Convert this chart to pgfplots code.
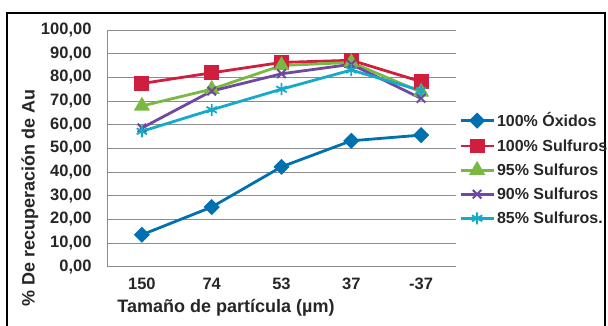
\documentclass[border=0pt]{standalone}
\usepackage{pgfplots}
\pgfplotsset{compat=1.18}
\usepackage{fontspec}
\setmainfont{Liberation Sans}
\definecolor{cBlue}{RGB}{0,112,176}
\definecolor{cRed}{RGB}{208,30,62}
\definecolor{cGreen}{RGB}{122,184,66}
\definecolor{cPurple}{RGB}{112,72,160}
\definecolor{cTeal}{RGB}{20,170,200}
\begin{document}
\begin{tikzpicture}[x=1pt,y=1pt]
\useasboundingbox (0,0) rectangle (608,325);
\draw[line width=2pt] (7,-10) rectangle (605,312);
\begin{axis}[
 at={(107pt,58.3pt)}, anchor=south west,
 scale only axis, width=349pt, height=236.7pt,
 xmin=-0.5, xmax=4.5, ymin=0, ymax=100,
 xtick={0,...,4}, xticklabels={150,74,53,37,-37},
 ytick={0,10,...,100},
 axis lines*=left, axis line style={draw=black!45, line width=0.8pt, -},
 major tick length=0pt,
 ymajorgrids, grid style={black!45, line width=0.8pt},
 tick label style={font=\bfseries\fontsize{16.5}{16.5}\selectfont, text=black!85},
 yticklabel style={xshift=-12pt, /pgf/number format/.cd, fixed, fixed zerofill, precision=2, use comma, assume math mode=true},
 xticklabel style={yshift=-8pt},
 xlabel={Tamaño de partícula (µm)},
 ylabel={\% De recuperación de Au},
 label style={font=\bfseries\fontsize{18}{18}\selectfont, text=black!85},
 xlabel style={at={(axis description cs:0.341,-0.1745)}, anchor=center},
 ylabel style={at={(axis description cs:-0.2206,0.292)}, anchor=center},
 legend style={at={(1.0,0.668)}, anchor=north west, draw=none, fill=none,
   font=\bfseries\fontsize{16}{16}\selectfont, text=black!85, row sep=7pt,
   nodes={inner sep=2pt}},
 legend cell align=left,
 legend image code/.code={\draw[mark repeat=2,mark phase=2] plot coordinates {(0pt,0pt)(16.5pt,0pt)(33pt,0pt)};},
 every axis plot/.append style={line width=2.8pt, mark options={solid}},
]
\addplot[cBlue, mark=square*, mark size=4.3, mark options={rotate=45}] coordinates {(0,13.5)(1,25.2)(2,42.2)(3,53.2)(4,55.6)};
\addlegendentry{100\% Óxidos}
\addplot[cRed, mark=square*, mark size=6] coordinates {(0,77.4)(1,81.9)(2,86.3)(3,87.2)(4,78.2)};
\addlegendentry{100\% Sulfuros}
\addplot[cGreen, mark=triangle*, mark size=6.5] coordinates {(0,67.9)(1,75.0)(2,85.0)(3,86.3)(4,73.8)};
\addlegendentry{95\% Sulfuros}
\addplot[cPurple, mark=x, mark size=6, mark options={line width=2pt}] coordinates {(0,58.6)(1,74.2)(2,81.5)(3,85.5)(4,71.1)};
\addlegendentry{90\% Sulfuros}
\addplot[cTeal, mark=asterisk, mark size=6, mark options={line width=1.8pt}] coordinates {(0,57.2)(1,66.3)(2,75.0)(3,83.1)(4,74.4)};
\addlegendentry{85\% Sulfuros.}
\end{axis}
\end{tikzpicture}
\end{document}
